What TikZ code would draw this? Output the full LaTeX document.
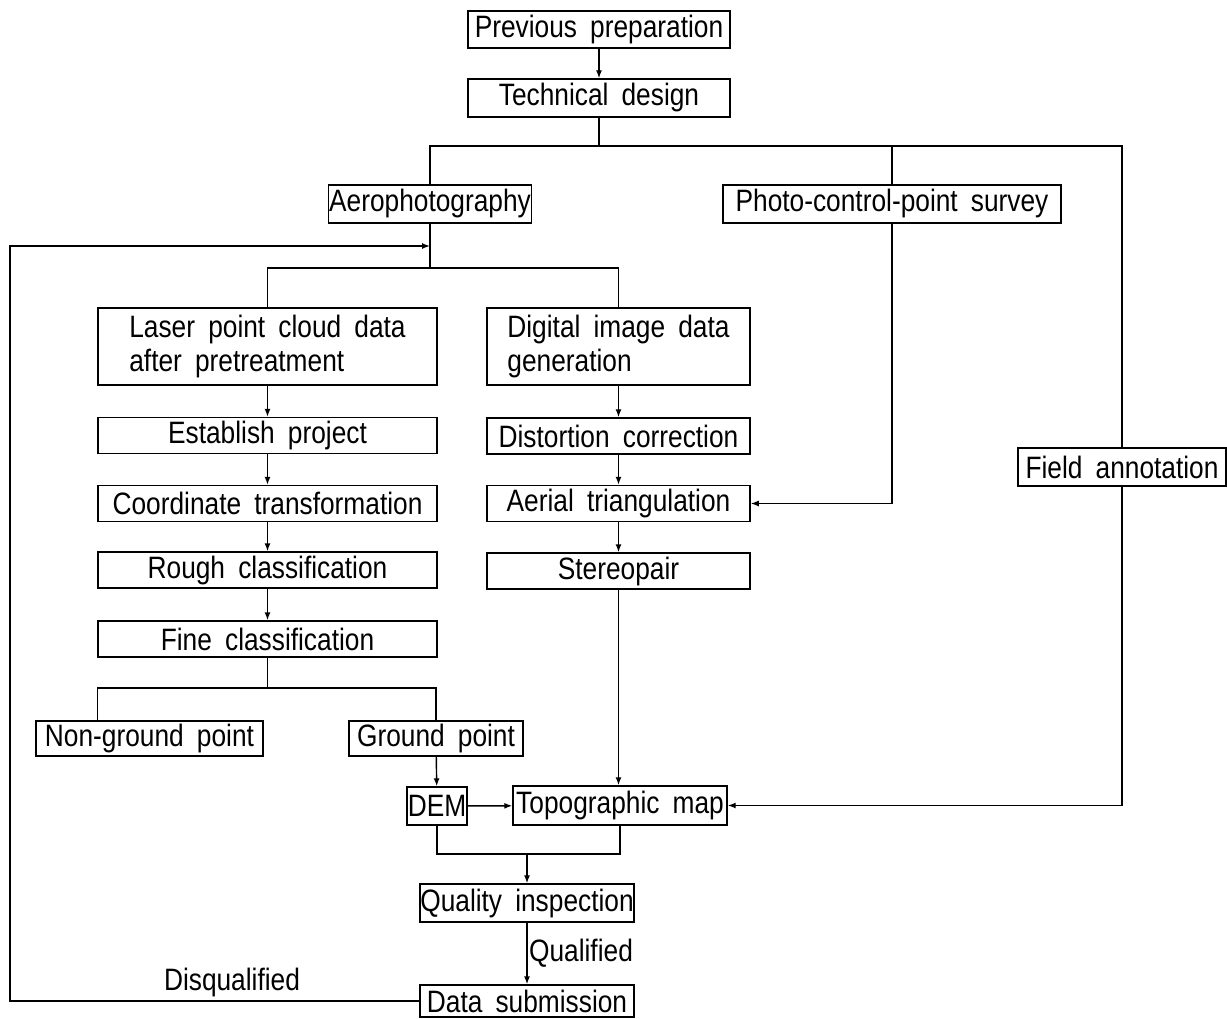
\documentclass[tikz,border=0pt]{standalone}
\usepackage{fontspec}
\setmainfont{Liberation Sans}[FakeStretch=0.85, WordSpace=1.8]
\usetikzlibrary{arrows.meta}

\tikzset{%
  box/.style={
    draw,
    line width=1pt,
    inner sep=0pt,
    minimum height=0.925cm
  },
  lbl/.style={
    inner sep=1pt
  },
}

\begin{document}
\begin{tikzpicture}[x=0.025cm, y=-0.025cm, line width=1pt,
  >={Latex[length=2mm,width=1.5mm]}, font=\fontsize{22}{23.5}\selectfont]
\useasboundingbox (0,0) rectangle (1227,1018);
%=========================================================================================================
% Top of the chart
%=========================================================================================================

\node [box, minimum width=6.55cm] (prep) at (599,29.5) {Previous preparation};
\node [box, minimum width=6.55cm, minimum height=0.95cm] (design) at (599,98) {Technical design};

%three branches under the technical design
\node [box, minimum width=5.075cm, minimum height=0.95cm] (aero) at (430,204) {Aerophotography};
\node [box, minimum width=8.45cm, minimum height=0.95cm] (photo) at (892,204) {Photo-control-point survey};
\node [box, minimum width=5.2cm, minimum height=0.95cm] (field) at (1122,467) {Field annotation};

\coordinate (split) at (599,146);
\coordinate (fork) at (430,268);
\coordinate (back) at (430,246);
\coordinate (left) at (10,246);

%=========================================================================================================
% Laser column
%=========================================================================================================

\node [box, minimum width=8.475cm, minimum height=1.925cm, align=left] (laser) at (267.5,346.5)
  {Laser point cloud data\\after pretreatment};

\foreach \n/\t/\y in {establish/Establish project/435.5, coord/Coordinate transformation/503.5,
  rough/Rough classification/570, fine/Fine classification/639}
  \node [box, minimum width=8.475cm, minimum height=0.9cm] (\n) at (267.5,\y) {\t};

\coordinate (split2) at (267.5,688);

\node [box, minimum width=5.675cm, minimum height=0.875cm] (nonground) at (149.5,738.5) {Non-ground point};
\node [box, minimum width=4.35cm, minimum height=0.875cm] (ground) at (436,738.5) {Ground point};
\node [box, minimum width=1.5cm, minimum height=0.95cm] (dem) at (437,806) {DEM};

%=========================================================================================================
% Image column
%=========================================================================================================

\node [box, minimum width=6.575cm, minimum height=1.925cm, align=left] (digital) at (618.5,346.5)
  {Digital image data\\generation};

\foreach \n/\t/\y in {distort/Distortion correction/436, aerial/Aerial triangulation/503.5,
  stereo/Stereopair/571}
  \node [box, minimum width=6.575cm, minimum height=0.9cm] (\n) at (618.5,\y) {\t};

\node [box, minimum width=5.35cm, minimum height=0.975cm] (topo) at (620,805.5) {Topographic map};

%=========================================================================================================
% Bottom of the chart
%=========================================================================================================

\coordinate (merge) at (527,854);

\node [box, minimum width=5.35cm, minimum height=0.95cm] (quality) at (527,903) {Quality inspection};
\node [box, minimum width=5.35cm, minimum height=0.8cm] (submit) at (527,1001) {Data submission};

%=========================================================================================================
% Draw connections
%=========================================================================================================
\draw [->] (prep) -- (design);
\draw (design) -- (split);
\draw (aero) |- (split) -| (field);
\draw (photo.north) -- (photo.north |- split);

\draw [->] (photo) |- (aerial);
\draw [->] (field) |- (topo);

\draw (aero) -- (fork);
\draw (laser) |- (fork) -| (digital);

%arrows down both columns
\foreach \a/\b in {laser/establish, establish/coord, coord/rough, rough/fine,
  digital/distort, distort/aerial, aerial/stereo}
  \draw [->] (\a) -- (\b);

\draw (fine) -- (split2);
\draw (nonground.north -| fine.west) |- (split2) -| (ground);

\draw [->] (ground) -- (dem);
\draw [->] (dem) -- (topo);
\draw [->] (stereo) -- (stereo |- topo.north);

\draw (dem) |- (merge) -| (topo);
\draw [->] (merge) -- (quality);

\draw [->] (quality) -- (submit)
  node [lbl, right, midway] (qual) {Qualified};

%back to aerophotography
\draw [->] (submit) -| (left) -- (back);
\node [lbl, above] (disq) at (232,999) {Disqualified};

\end{tikzpicture}
\end{document}
